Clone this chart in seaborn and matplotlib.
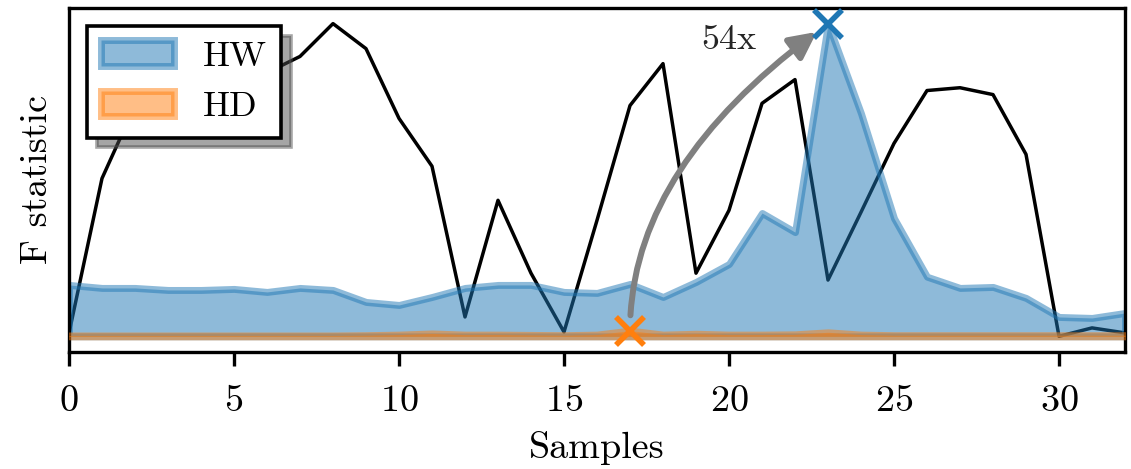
import numpy as np
import pandas as pd
import matplotlib
matplotlib.use("Agg")
import matplotlib.pyplot as plt
import seaborn as sns

# ---- data ----
samples = list(range(33))
hw = [8.88, 8.36, 8.36, 8.01, 8.01, 8.19, 7.67, 8.36, 8.01, 5.94, 5.42,
      6.80, 8.36, 8.88, 8.88, 7.67, 7.50, 9.05, 6.80, 9.40, 12.5, 21.3,
      18.0, 54.0, 38.5, 20.4, 10.3, 8.36, 8.53, 6.63, 3.35, 3.18, 4.04]
hd = [0.15, 0.15, 0.15, 0.15, 0.15, 0.15, 0.15, 0.15, 0.15, 0.2, 0.3,
      0.5, 0.3, 0.3, 0.25, 0.2, 0.3, 1.0, 0.3, 0.45, 0.3, 0.3,
      0.35, 0.7, 0.3, 0.2, 0.2, 0.2, 0.2, 0.2, 0.2, 0.2, 0.2]
trace = [0.01, 0.505, 0.738, 0.786, 0.812, 0.824, 0.843, 0.895, 1.0, 0.92,
         0.697, 0.544, 0.062, 0.435, 0.202, 0.014, 0.371, 0.738, 0.872,
         0.202, 0.403, 0.745, 0.821, 0.18, 0.397, 0.617, 0.786, 0.795,
         0.773, 0.582, 0.0, 0.027, 0.011]
ratio_label = "54x"

sns.set_theme(style="ticks")
plt.rcParams["font.family"] = ["cmr10", "DejaVu Serif"]
plt.rcParams["mathtext.fontset"] = "cm"
plt.rcParams["axes.formatter.use_mathtext"] = True
plt.rcParams["axes.unicode_minus"] = False

FS = 27.5
FS_LEG = 26
C_HW = "#1f77b4"
C_HD = "#ff7f0e"

fig = plt.figure(figsize=(11.31, 4.69), dpi=100)
ax = fig.add_axes([0.061, 0.2495, 0.9337, 0.7335])

df = pd.DataFrame({"Samples": samples, "HW": hw, "HD": hd,
                   "trace": np.array(trace) * max(hw)})

sns.lineplot(data=df, x="Samples", y="trace", color="black", lw=2.5,
             ax=ax, zorder=1)
ax.fill_between(df["Samples"], df["HW"], facecolor=C_HW, edgecolor=C_HW,
                alpha=0.5, lw=5, label="HW", zorder=2)
ax.fill_between(df["Samples"], df["HD"], facecolor=C_HD, edgecolor=C_HD,
                alpha=0.5, lw=5, label="HD", zorder=3)

i_hw = int(np.argmax(hw))
i_hd = int(np.argmax(hd))
ax.plot(samples[i_hw], hw[i_hw], marker="x", color=C_HW, ms=20, mew=4,
        ls="none", clip_on=False, zorder=6)
ax.plot(samples[i_hd], hd[i_hd], marker="x", color=C_HD, ms=20, mew=4,
        ls="none", clip_on=False, zorder=6)

ax.annotate("", xy=(samples[i_hw], hw[i_hw]), xytext=(samples[i_hd], hd[i_hd]),
            arrowprops=dict(arrowstyle="-|>,head_length=0.8,head_width=0.4",
                            connectionstyle="angle3,angleA=90,angleB=36",
                            color="#808080", lw=4.3, mutation_scale=20,
                            shrinkA=11, shrinkB=10),
            zorder=5)
ax.text(20.0, 51.2, ratio_label, fontsize=FS_LEG, ha="center", va="center")

ax.set_xlim(0, 32)
ax.set_yticks([])
ax.set_xticks([0, 5, 10, 15, 20, 25, 30])
ax.tick_params(axis="x", labelsize=FS, length=10, width=2.4, pad=13.5,
               color="black", labelcolor="black")
ax.set_xlabel("Samples", fontsize=FS, color="black", labelpad=9.5)
ax.set_ylabel("F statistic", fontsize=FS, color="black", labelpad=10.5)
for s in ax.spines.values():
    s.set_visible(True)
    s.set_color("black")
    s.set_linewidth(2.4)

leg = ax.legend(loc="upper left", fontsize=FS_LEG, fancybox=False,
                shadow={"ox": 7, "oy": -7}, framealpha=1, edgecolor="black")
leg.get_frame().set_linewidth(2.6)
for t in leg.get_texts():
    t.set_color("black")

fig.savefig("out.png", dpi=100)
